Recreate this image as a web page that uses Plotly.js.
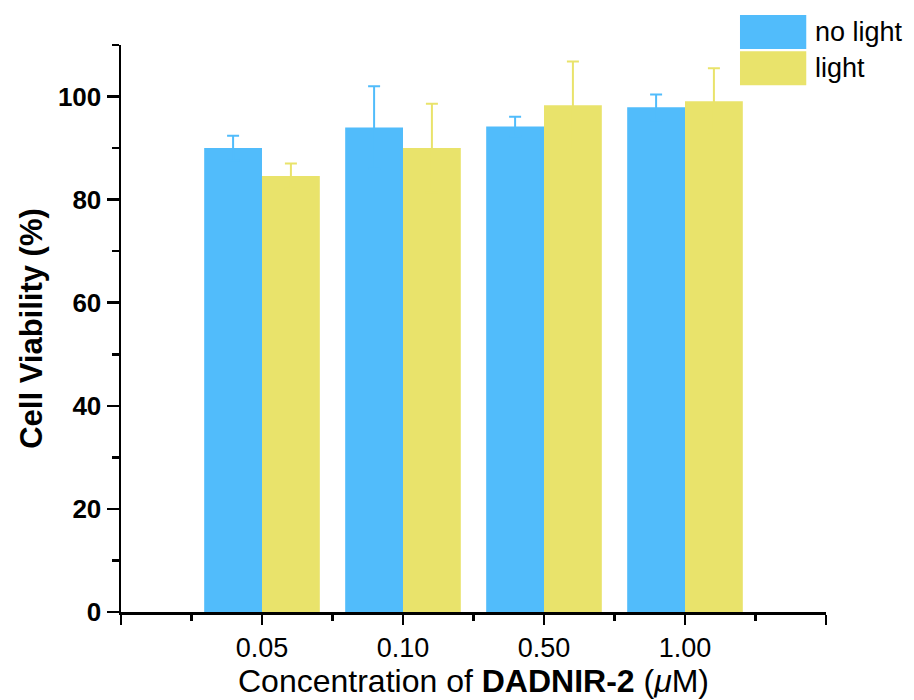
<!DOCTYPE html>
<html>
<head>
<meta charset="utf-8">
<script src="https://cdn.plot.ly/plotly-3.0.1.min.js"></script>
<style>
  html, body { margin: 0; padding: 0; background: #ffffff; }
  #chart { width: 914px; height: 700px; }
</style>
</head>
<body>
<div id="chart"></div>
<script>
// Cell viability after treatment with DADNIR-2, with and without irradiation
const concentrations = ['0.05', '0.10', '0.50', '1.00'];
const seriesNames = ['no light', 'light'];
const noLightMean = [90.0, 94.0, 94.2, 97.9];
const noLightErr = [2.4, 8.0, 1.9, 2.5];
const lightMean = [84.6, 90.0, 98.3, 99.1];
const lightErr = [2.4, 8.6, 8.5, 6.4];

const colors = ['#51bcfb', '#e9e36b'];
const FONT = '"Liberation Sans", Arial, Helvetica, sans-serif';

// categories sit at 1..4 on a linear axis so the frame can run from 0 to 5
const xPos = concentrations.map((c, i) => i + 1);

function barTrace(name, means, errs, color) {
  return {
    type: 'bar',
    name: name,
    x: xPos,
    y: means,
    marker: { color: color, line: { width: 0 } },
    // symmetric bars in the bar's own colour: the lower half vanishes into the bar
    error_y: {
      type: 'data',
      array: errs,
      symmetric: true,
      visible: true,
      color: color,
      thickness: 2,
      width: 6
    },
    showlegend: false,
    hoverinfo: 'x+y'
  };
}

const data = [
  barTrace(seriesNames[0], noLightMean, noLightErr, colors[0]),
  barTrace(seriesNames[1], lightMean, lightErr, colors[1])
];

// Legend drawn as large swatches with labels at the top right
const swatchX0 = 0.878, swatchX1 = 0.972;
const swatchRows = [[1.053, 0.993], [0.989, 0.929]];
const shapes = seriesNames.map((n, i) => ({
  type: 'rect', xref: 'paper', yref: 'paper',
  x0: swatchX0, x1: swatchX1, y0: swatchRows[i][1], y1: swatchRows[i][0],
  fillcolor: colors[i], line: { width: 0 }, layer: 'above'
}));
const annotations = seriesNames.map((n, i) => ({
  xref: 'paper', yref: 'paper',
  x: 0.981, y: (swatchRows[i][0] + swatchRows[i][1]) / 2,
  xanchor: 'left', yanchor: 'middle',
  text: n, showarrow: false,
  font: { family: FONT, size: 27, color: '#000000' }
}));

const layout = {
  width: 914,
  height: 700,
  margin: { l: 121, r: 88, t: 45, b: 88 },
  paper_bgcolor: '#ffffff',
  plot_bgcolor: '#ffffff',
  barmode: 'group',
  bargap: 0.18,
  bargroupgap: 0,
  font: { family: FONT, color: '#000000' },
  xaxis: {
    type: 'linear',
    range: [0, 5],
    tickmode: 'array',
    tickvals: [0].concat(xPos, [5]),
    ticktext: [''].concat(concentrations, ['']),
    ticks: 'outside',
    ticklen: 10,
    tickwidth: 2.5,
    tickcolor: '#000000',
    minor: {
      tickmode: 'array',
      tickvals: [0.5, 1.5, 2.5, 3.5, 4.5],
      ticks: 'outside',
      ticklen: 6,
      tickwidth: 2.5,
      tickcolor: '#000000',
      showgrid: false
    },
    showline: true,
    linecolor: '#000000',
    linewidth: 2.5,
    showgrid: false,
    zeroline: false,
    tickfont: { family: FONT, size: 27, color: '#000000' },
    title: {
      text: 'Concentration of <b>DADNIR-2</b> (<i>μ</i>M)',
      font: { family: FONT, size: 32, color: '#000000' },
      standoff: 0
    }
  },
  yaxis: {
    range: [0, 110],
    tickmode: 'linear',
    tick0: 0,
    dtick: 20,
    ticks: 'outside',
    ticklen: 12,
    tickwidth: 2.5,
    tickcolor: '#000000',
    minor: {
      tickmode: 'linear',
      tick0: 0,
      dtick: 10,
      ticks: 'outside',
      ticklen: 7,
      tickwidth: 2.5,
      tickcolor: '#000000',
      showgrid: false
    },
    showline: true,
    linecolor: '#000000',
    linewidth: 2.5,
    showgrid: false,
    zeroline: false,
    tickfont: { family: FONT, size: 26, color: '#000000', weight: 'bold' },
    title: {
      text: '<b>Cell Viability (%)</b>',
      font: { family: FONT, size: 31, color: '#000000' },
      standoff: 6
    }
  },
  shapes: shapes,
  annotations: annotations
};

Plotly.newPlot('chart', data, layout, { displayModeBar: false, staticPlot: true });
</script>
</body>
</html>
